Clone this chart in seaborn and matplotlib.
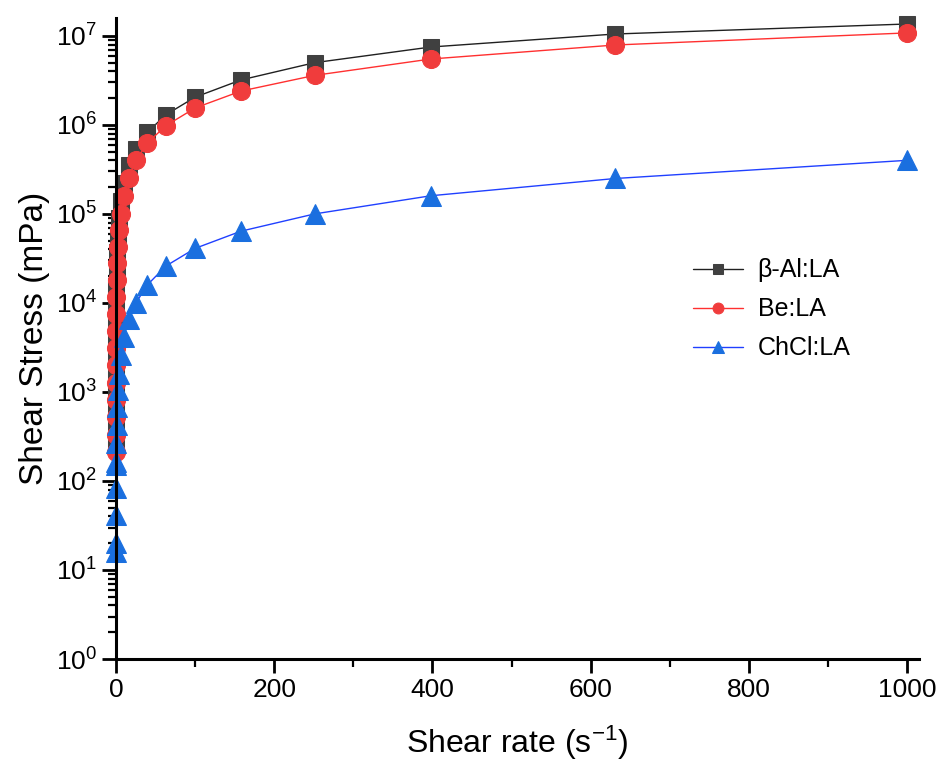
import numpy as np
import pandas as pd
import matplotlib
matplotlib.use("Agg")
import matplotlib.pyplot as plt
import matplotlib.ticker as mticker
import seaborn as sns

# shear rate (s-1), log spaced as measured
rate = [1000, 631, 398, 251, 158, 100, 63.1, 39.8, 25.1, 15.8, 10, 6.31, 3.98,
        2.51, 1.58, 1.0, 0.631, 0.398, 0.251, 0.158, 0.1, 0.063, 0.04, 0.025,
        0.016, 0.01]

# shear stress (mPa)
beta_al = [1.36e7, 1.05e7, 7.5e6, 5.0e6, 3.2e6, 2.05e6, 1.3e6, 8.3e5, 5.4e5,
           3.5e5, 2.2e5, 1.4e5, 9.1e4, 5.8e4, 3.7e4, 2.4e4, 1.55e4, 1.0e4,
           6.4e3, 4.1e3, 2.7e3, 1.7e3, 1.1e3, 720, 460, 290]
be = [1.08e7, 7.9e6, 5.5e6, 3.6e6, 2.4e6, 1.55e6, 9.8e5, 6.3e5, 4.0e5, 2.5e5,
      1.6e5, 1.0e5, 6.6e4, 4.2e4, 2.8e4, 1.8e4, 1.17e4, 7.5e3, 4.9e3, 3.1e3,
      2.0e3, 1.26e3, 810, 520, 330, 210]
chcl = [4.0e5, 2.5e5, 1.6e5, 1.0e5, 6.4e4, 4.1e4, 2.6e4, 1.6e4, 1.0e4, 6.6e3,
        4.1e3, 2.6e3, 1.6e3, 1.05e3, 680, 425, 270, 165, 150, 83, 42, 20, 16]

sns.set_style("ticks")
plt.rcParams['font.family'] = ['Liberation Sans', 'DejaVu Sans']
plt.rcParams['mathtext.fontset'] = 'custom'
plt.rcParams['mathtext.rm'] = 'Liberation Sans'
plt.rcParams['mathtext.it'] = 'Liberation Sans'
for k in ['text.color', 'axes.labelcolor', 'xtick.color', 'ytick.color', 'axes.edgecolor']:
    plt.rcParams[k] = 'black'

fig = plt.figure(figsize=(9.37, 7.63), dpi=100)
ax = fig.add_axes([0.1238, 0.1363, 0.857, 0.840])

series = [
    ("β-Al:LA", rate, beta_al, "s", "#404040", "#202020", 11),
    ("Be:LA", rate, be, "o", "#f03c3c", "#ff3030", 13),
    ("ChCl:LA", rate[:len(chcl)], chcl, "^", "#1a6fdf", "#2040ff", 14),
]
for name, xs, ys, mk, mc, lc, ms in series:
    df = pd.DataFrame({"rate": xs, "stress": ys})
    sns.lineplot(data=df, x="rate", y="stress", ax=ax, color=lc, lw=1.0,
                 marker=mk, markersize=ms, markerfacecolor=mc,
                 markeredgecolor=mc, label=name, clip_on=False, sort=True)

ax.set_yscale("log")
ax.set_xlim(0, 1015)
ax.set_ylim(1, 10 ** 7.2)
ax.xaxis.set_major_locator(mticker.MultipleLocator(200))
ax.xaxis.set_minor_locator(mticker.MultipleLocator(100))
ax.yaxis.set_major_locator(mticker.LogLocator(base=10, numticks=20))
ax.yaxis.set_minor_locator(mticker.LogLocator(base=10, subs=np.arange(2, 10), numticks=20))
ax.yaxis.set_minor_formatter(mticker.NullFormatter())

for s in ["top", "right"]:
    ax.spines[s].set_visible(False)
for s in ["left", "bottom"]:
    ax.spines[s].set_linewidth(2.2)
ax.tick_params(which="major", length=10, width=2, labelsize=19, direction="out")
ax.tick_params(which="minor", length=6, width=1.6, direction="out")

ax.set_xlabel("Shear rate (s$^{-1}$)", fontsize=23, labelpad=16)
ax.set_ylabel("Shear Stress (mPa)", fontsize=24, labelpad=4)

leg = ax.legend(loc="upper left", bbox_to_anchor=(0.69, 0.66), frameon=False,
                fontsize=18, handlelength=2.0, handletextpad=0.6,
                markerscale=0.6, labelspacing=0.6)

plt.savefig("out.png", dpi=100)
